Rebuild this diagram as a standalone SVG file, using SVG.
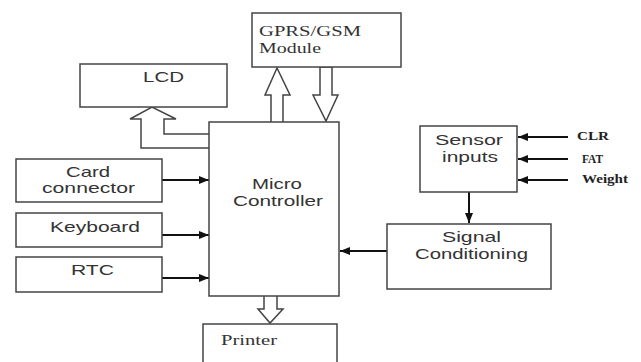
<svg xmlns="http://www.w3.org/2000/svg" width="641" height="362" viewBox="0 0 641 362">
<defs>
<marker id="ah" markerWidth="10" markerHeight="8" refX="10" refY="4" orient="auto" markerUnits="userSpaceOnUse">
<path d="M0,0 L10,4 L0,8 Z" fill="#111"/>
</marker>
</defs>
<style>
.box{fill:#fff;stroke:#444;stroke-width:1.5}
.hol{fill:#fff;stroke:#444;stroke-width:1.5;stroke-linejoin:miter}
.ln{fill:none;stroke:#111;stroke-width:2}
.s{font-family:"Liberation Sans",Arial,sans-serif;font-size:15px;fill:#333}
.s14{font-family:"Liberation Sans",Arial,sans-serif;font-size:14px;fill:#333}
.t{font-family:"Liberation Serif","Times New Roman",serif;font-size:14px;fill:#333}
.tb{font-family:"Liberation Serif","Times New Roman",serif;font-size:12px;font-weight:bold;fill:#222}
</style>
<rect width="641" height="362" fill="#fff"/>
<g id="connectors">
<path class="hol" d="M271,122 L271,95 L265,95 L277,68 L290,95 L283,95 L283,122"/>
<path class="hol" d="M320,67 L332,67 L332,95 L338,95 L326,121 L313,95 L320,95 Z"/>
<path class="hol" d="M209,134 L164,134 L164,119 L176,119 L152,107 L130,119 L141,119 L141,148 L209,148"/>
<path class="hol" d="M264,296 L264,309 L258,309 L270,323 L283,309 L277,309 L277,296"/>
<line class="ln" x1="162" y1="180" x2="209" y2="180" marker-end="url(#ah)"/>
<line class="ln" x1="162" y1="235" x2="209" y2="235" marker-end="url(#ah)"/>
<line class="ln" x1="162" y1="278" x2="209" y2="278" marker-end="url(#ah)"/>
<line class="ln" x1="387" y1="251" x2="340" y2="251" marker-end="url(#ah)"/>
<line class="ln" x1="469" y1="192" x2="469" y2="223" marker-end="url(#ah)"/>
<line class="ln" x1="568" y1="137" x2="518" y2="137" marker-end="url(#ah)"/>
<line class="ln" x1="568" y1="159" x2="518" y2="159" marker-end="url(#ah)"/>
<line class="ln" x1="568" y1="180" x2="518" y2="180" marker-end="url(#ah)"/>
</g>
<g id="gprs">
<rect class="box" x="252" y="13" width="149" height="54"/>
<text class="t" x="259" y="36" textLength="102" lengthAdjust="spacingAndGlyphs">GPRS/GSM</text>
<text class="t" x="259" y="53" textLength="62" lengthAdjust="spacingAndGlyphs">Module</text>
</g>
<g id="lcd">
<rect class="box" x="80" y="64" width="147" height="43"/>
<text class="s" x="143" y="82" textLength="41" lengthAdjust="spacingAndGlyphs">LCD</text>
</g>
<g id="microcontroller">
<rect class="box" x="209" y="122" width="130" height="174"/>
<text class="s" x="252" y="189" textLength="50" lengthAdjust="spacingAndGlyphs">Micro</text>
<text class="s" x="233" y="206" textLength="90" lengthAdjust="spacingAndGlyphs">Controller</text>
</g>
<g id="card">
<rect class="box" x="16" y="159" width="146" height="43"/>
<text class="s" x="66" y="177" textLength="44" lengthAdjust="spacingAndGlyphs">Card</text>
<text class="s" x="42" y="193" textLength="93" lengthAdjust="spacingAndGlyphs">connector</text>
</g>
<g id="keyboard">
<rect class="box" x="16" y="213" width="146" height="34"/>
<text class="s" x="50" y="232" textLength="90" lengthAdjust="spacingAndGlyphs">Keyboard</text>
</g>
<g id="rtc">
<rect class="box" x="16" y="257" width="146" height="35"/>
<text class="s" x="71" y="275" textLength="43" lengthAdjust="spacingAndGlyphs">RTC</text>
</g>
<g id="printer">
<rect class="box" x="203" y="324" width="134" height="50"/>
<text class="t" x="221" y="345" textLength="56" lengthAdjust="spacingAndGlyphs">Printer</text>
</g>
<g id="sensor">
<rect class="box" x="420" y="126" width="97" height="66"/>
<text class="s14" x="435" y="145" textLength="68" lengthAdjust="spacingAndGlyphs">Sensor</text>
<text class="s14" x="442" y="162" textLength="56" lengthAdjust="spacingAndGlyphs">inputs</text>
</g>
<g id="signal">
<rect class="box" x="387" y="224" width="164" height="65"/>
<text class="s" x="442" y="242" textLength="59" lengthAdjust="spacingAndGlyphs">Signal</text>
<text class="s" x="415" y="259" textLength="113" lengthAdjust="spacingAndGlyphs">Conditioning</text>
</g>
<g id="labels">
<text class="tb" x="577" y="140" textLength="32" lengthAdjust="spacingAndGlyphs">CLR</text>
<text class="tb" x="582" y="163" textLength="21" lengthAdjust="spacingAndGlyphs">FAT</text>
<text class="tb" x="582" y="183" textLength="46" lengthAdjust="spacingAndGlyphs">Weight</text>
</g>
</svg>
